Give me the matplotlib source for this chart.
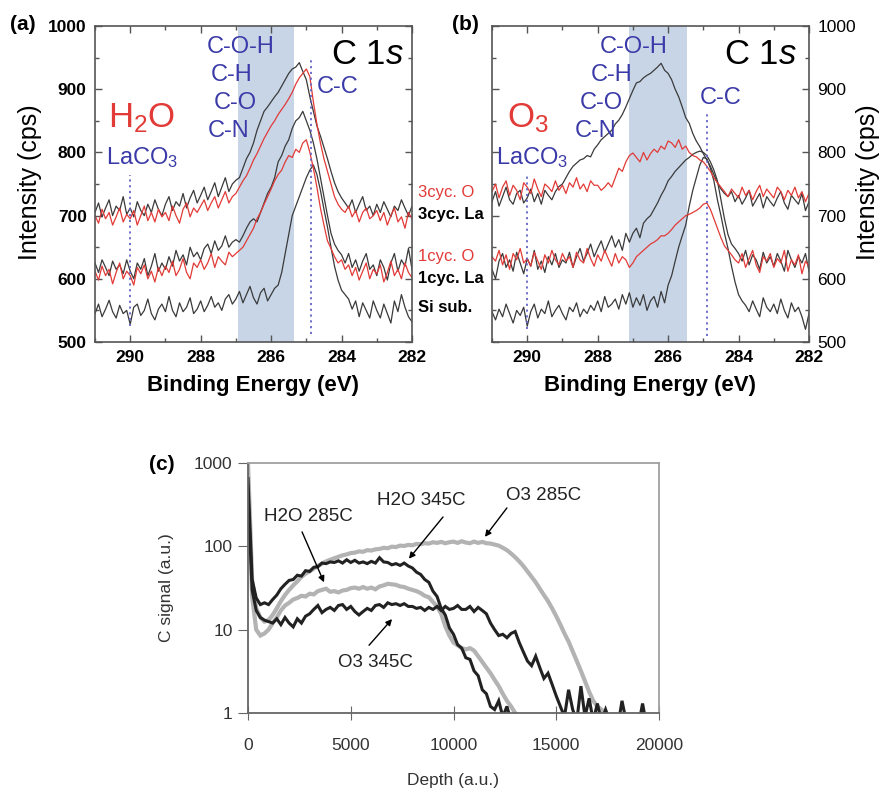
import numpy as np
import matplotlib.pyplot as plt
from matplotlib.ticker import MultipleLocator

plt.rcParams['font.family'] = ['Liberation Sans', 'DejaVu Sans']
plt.rcParams['mathtext.fontset'] = 'custom'
plt.rcParams['mathtext.rm'] = 'Liberation Sans'
plt.rcParams['mathtext.it'] = 'Liberation Sans:italic'
plt.rcParams['mathtext.bf'] = 'Liberation Sans:bold'

# ---- XPS C 1s spectra, 291.0 -> 282.0 eV in 0.1 eV steps ----
energy = np.round(np.arange(291.0, 281.95, -0.1), 1)

# (a) H2O process
a_si = [545, 560, 540, 552, 566, 548, 538, 558, 545, 550,
        528, 555, 560, 542, 550, 568, 545, 535, 552, 560,
        548, 572, 550, 540, 562, 548, 555, 570, 545, 552,
        565, 548, 558, 572, 555, 562, 550, 568, 575, 560,
        568, 580, 562, 575, 588, 570, 560, 578, 585, 565,
        575, 585, 590, 610, 640, 670, 700, 715, 730, 745,
        760, 772, 780, 765, 740, 710, 682, 650, 620, 598,
        582, 575, 568, 552, 565, 540, 562, 550, 538, 565,
        550, 538, 560, 545, 530, 565, 548, 575, 555, 540, 532]
a_1la = [625, 610, 630, 618, 605, 628, 615, 622, 608, 630,
         612, 600, 625, 615, 632, 605, 620, 640, 612, 625,
         615, 635, 620, 645, 628, 638, 622, 650, 635, 642,
         630, 648, 655, 640, 660, 645, 652, 668, 650, 658,
         662, 658, 668, 680, 690, 695, 690, 705, 720, 735,
         745, 760, 785, 795, 810, 820, 838, 850, 855, 865,
         850, 835, 815, 790, 760, 730, 700, 672, 655, 645,
         638, 625, 640, 618, 630, 612, 628, 640, 615, 622,
         605, 630, 618, 598, 625, 640, 612, 630, 620, 648, 615]
a_1o = [612, 598, 620, 605, 615, 592, 610, 625, 600, 612,
        605, 590, 618, 608, 622, 600, 612, 595, 618, 605,
        620, 610, 628, 605, 615, 632, 610, 600, 625, 618,
        630, 615, 625, 640, 618, 635, 628, 622, 642, 635,
        640, 645, 650, 660, 670, 680, 695, 705, 718, 730,
        742, 755, 765, 772, 785, 795, 792, 805, 800, 815,
        820, 800, 775, 745, 712, 685, 660, 648, 635, 625,
        630, 615, 622, 605, 618, 598, 612, 625, 600, 615,
        608, 622, 595, 610, 628, 605, 615, 600, 625, 610, 602]
a_3la = [705, 720, 698, 712, 725, 700, 715, 708, 730, 702,
         712, 698, 722, 708, 700, 718, 705, 725, 710, 700,
         718, 730, 708, 722, 715, 735, 712, 728, 740, 720,
         732, 745, 725, 738, 752, 730, 745, 760, 738, 750,
         756, 760, 775, 790, 800, 815, 835, 850, 865, 872,
         880, 888, 895, 905, 915, 925, 932, 935, 942, 928,
         915, 888, 865, 842, 826, 808, 790, 770, 752, 738,
         728, 720, 712, 725, 705, 718, 730, 708, 715, 700,
         718, 705, 722, 710, 698, 715, 708, 725, 712, 700, 715]
a_3o = [700, 688, 710, 695, 705, 685, 698, 712, 690, 702,
        695, 708, 685, 700, 715, 692, 705, 690, 710, 698,
        705, 692, 715, 700, 688, 710, 720, 698, 712, 705,
        715, 725, 708, 720, 730, 712, 725, 738, 720, 730,
        735, 745, 755, 763, 775, 788, 798, 810, 822, 832,
        842, 850, 860, 868, 876, 885, 895, 908, 918, 925,
        932, 920, 880, 845, 815, 790, 770, 750, 730, 718,
        710, 705, 715, 698, 708, 690, 705, 712, 695, 700,
        708, 692, 705, 685, 700, 712, 690, 698, 680, 705, 695]

# (b) O3 process
b_si = [548, 535, 552, 540, 560, 545, 530, 550, 542, 555,
        525, 548, 560, 538, 552, 545, 565, 540, 550, 558,
        545, 535, 555, 548, 562, 540, 552, 545, 558, 550,
        565, 548, 572, 555, 560, 568, 552, 575, 560, 578,
        555, 570, 558, 575, 550, 565, 572, 555, 580, 562,
        590, 605, 628, 650, 668, 685, 715, 740, 760, 780,
        792, 790, 775, 755, 725, 700, 672, 648, 620, 595,
        575, 565, 558, 548, 565, 552, 540, 570, 555, 548,
        560, 545, 568, 550, 538, 562, 548, 555, 540, 520, 545]
b_1la = [615, 600, 628, 640, 618, 630, 612, 642, 625, 608,
         632, 620, 645, 615, 628, 610, 635, 622, 640, 618,
         630, 625, 642, 618, 635, 648, 628, 640, 655, 635,
         648, 660, 642, 655, 668, 650, 662, 645, 672, 658,
         672, 680, 665, 688, 695, 700, 710, 720, 732, 742,
         755, 762, 770, 776, 782, 788, 792, 797, 800, 802,
         800, 795, 785, 772, 755, 725, 695, 670, 655, 648,
         640, 628, 645, 622, 638, 630, 615, 642, 625, 635,
         620, 640, 628, 612, 645, 630, 618, 635, 625, 640, 612]
b_1o = [635, 628, 645, 622, 638, 615, 640, 630, 648, 625,
        632, 620, 642, 628, 615, 638, 625, 645, 630, 622,
        640, 628, 635, 618, 642, 630, 625, 648, 632, 620,
        638, 628, 645, 632, 620, 640, 625, 635, 630, 618,
        625, 635, 640, 645, 650, 655, 658, 662, 668, 668,
        672, 678, 685, 690, 695, 700, 702, 705, 708, 712,
        718, 720, 710, 695, 680, 665, 652, 645, 638, 630,
        625, 640, 618, 632, 645, 622, 610, 635, 628, 640,
        618, 632, 625, 645, 612, 630, 622, 638, 608, 628, 620]
b_3la = [722, 738, 715, 730, 745, 725, 718, 735, 740, 720,
         728, 742, 722, 735, 718, 740, 732, 725, 738, 746,
         750, 760, 770, 778, 783, 788, 790, 795, 793, 805,
         812, 820, 825, 830, 835, 845, 851, 860, 872, 885,
         898, 910, 912, 918, 922, 925, 930, 935, 941, 930,
         925, 915, 900, 888, 872, 855, 846, 830, 818, 809,
         798, 788, 778, 765, 752, 742, 735, 730, 738, 722,
         732, 718, 728, 740, 715, 725, 735, 712, 730, 722,
         715, 728, 738, 720, 710, 732, 725, 718, 735, 708, 722]
b_3o = [738, 750, 728, 745, 755, 732, 748, 740, 725, 752,
        745, 735, 758, 742, 730, 750, 745, 738, 755, 740,
        748, 735, 752, 745, 760, 742, 750, 738, 755, 748,
        748, 740, 745, 752, 745, 760, 775, 770, 785, 795,
        799, 792, 785, 800, 788, 798, 805, 800, 810, 805,
        818, 815, 808, 820, 805, 810, 800, 795, 793, 788,
        785, 778, 770, 760, 752, 745, 738, 730, 742, 735,
        728, 745, 732, 740, 725, 738, 748, 730, 742, 735,
        728, 745, 738, 725, 740, 732, 745, 728, 738, 722, 735]

# ---- ToF-SIMS carbon depth profiles, 200 a.u. depth steps ----
depth_step = 200
h2o_345 = [650, 40, 24, 20, 21, 20, 23, 26, 31, 35,
           39, 40, 45, 44, 51, 50, 56, 57, 63, 62,
           65, 64, 67, 63, 69, 64, 68, 63, 65, 62,
           66, 63, 73, 65, 64, 60, 62, 59, 63, 58,
           55, 49, 46, 40, 37, 29, 25, 18, 15, 10.5,
           8.8, 6.6, 6, 4.6, 4.4, 3.2, 2.8, 1.9, 1.7, 1.2,
           1.1, 1.4, 0.9, 1.2, 0.8]
o3_345 = [450, 30, 17, 14, 13, 12.5, 12, 13.5, 11.5, 14,
          12, 10.8, 13.5, 12, 14.5, 15.5, 17.5, 19.5, 16, 17.5,
          18.5, 17, 19.5, 20, 17.5, 19, 16.5, 15, 16.5, 18,
          17, 19.5, 20, 18.5, 21, 20, 20.5, 19.5, 20.5, 19,
          19, 18, 18.5, 17, 18.5, 17.5, 19, 17, 19, 17.5,
          18, 19.5, 17.5, 17.5, 19, 16.5, 18.5, 17, 15.5, 12,
          10, 8.5, 8.8, 8, 9, 9.5, 7, 5.4, 4.2, 3.7,
          4.8, 3.5, 2.6, 3, 2.2, 1.6, 1.2, 0.9, 1.9, 1.1,
          0.8, 2.1, 0.9, 1.5, 0.8, 1.3, 0.8, 1.1, 0.8, 0.9,
          0.7, 1.4, 0.8, 0.7, 0.8, 0.7, 1.3, 0.7]
h2o_285 = [600, 25, 10, 8.5, 9, 10, 12, 14, 17, 19.5,
           21, 23, 24, 25.5, 25, 27, 26.5, 29, 30, 31,
           28.5, 29, 28, 29.5, 30, 31.5, 32, 31, 32.5, 31,
           32, 30.5, 33, 34, 35.5, 35, 34.5, 33, 32.5, 31,
           30, 29, 27.5, 25.5, 24.5, 21.5, 19, 15.5, 11, 8.5,
           7, 6.5, 6, 5.8, 6, 5.6, 4.8, 4.1, 3.5, 3,
           2.5, 2.1, 1.7, 1.4, 1.2, 1.0, 0.9]
o3_285 = [1000, 40, 18, 14, 12.5, 13, 15, 18, 22, 26,
          30, 34, 38, 43, 47, 50, 54, 58, 62, 66,
          69, 72, 75, 78, 80, 83, 84, 87, 86, 90,
          89, 92, 93, 96, 95, 99, 98, 102, 101, 104,
          103, 107, 106, 109, 108, 112, 110, 113, 109, 112,
          114, 110, 115, 111, 109, 114, 110, 113, 109, 108,
          105, 102, 96, 90, 82, 74, 66, 58, 50, 43,
          37, 31, 26, 22, 18, 14.5, 11.5, 9, 7.2, 5.5,
          4.2, 3.2, 2.4, 1.8, 1.4, 1.2, 1.1, 0.95, 0.9]

W, H = 882, 794
RED = '#e23a36'
BLUE = '#3a3aa8'
SHADE = '#c7d5e7'
FRAME = '#555555'

fig = plt.figure(figsize=(W / 100, H / 100), dpi=100)


def ftext(x, y, s, **kw):
    # place text using pixel coordinates of the figure
    return fig.text(x / W, 1 - y / H, s, **kw)


def xps_axes(left, series, span, la_line, cc_x, cc_line):
    ax = fig.add_axes([left / W, 1 - 342 / H, 317 / W, 316 / H])
    ax.axvspan(span[0], span[1], color=SHADE, lw=0, zorder=0)
    for vals, col in series:
        ax.plot(energy, vals, color=col, lw=0.9)
    dots = dict(color='#6464c8', lw=1.3, ls=(0, (1.2, 2.0)))
    ax.plot([290, 290], la_line, **dots)
    ax.plot([cc_x, cc_x], cc_line, **dots)
    ax.set_xlim(291, 282)
    ax.set_ylim(500, 1000)
    ax.xaxis.set_major_locator(MultipleLocator(2))
    ax.xaxis.set_minor_locator(MultipleLocator(1))
    ax.yaxis.set_major_locator(MultipleLocator(100))
    ax.yaxis.set_minor_locator(MultipleLocator(50))
    ax.tick_params(which='both', direction='in', top=True, right=True,
                   color=FRAME, width=1)
    ax.tick_params(which='major', length=5, labelsize=12.5, pad=6)
    ax.tick_params(which='minor', length=3)
    for sp in ax.spines.values():
        sp.set_color(FRAME)
        sp.set_linewidth(1.2)
    for lab in ax.get_xticklabels():
        lab.set_fontweight('bold')
    return ax


ax_a = xps_axes(95, [(a_si, '#3a3a3a'), (a_1la, '#3a3a3a'), (a_1o, RED),
                     (a_3la, '#3a3a3a'), (a_3o, RED)],
                (286.95, 285.35), [525, 765], 284.87, [513, 949])
for lab in ax_a.get_yticklabels():
    lab.set_fontweight('bold')

ax_b = xps_axes(492, [(b_si, '#3a3a3a'), (b_1la, '#3a3a3a'), (b_1o, RED),
                      (b_3la, '#3a3a3a'), (b_3o, RED)],
                (287.12, 285.45), [520, 768], 284.9, [510, 862])
ax_b.tick_params(labelleft=False, labelright=True)

# panel labels and axis titles
ftext(10, 25, '(a)', fontsize=15, fontweight='bold', va='center')
ftext(452, 25, '(b)', fontsize=15, fontweight='bold', va='center')
ftext(30, 182, 'Intensity (cps)', fontsize=18, rotation=90, ha='center', va='center')
ftext(868, 182, 'Intensity (cps)', fontsize=18, rotation=90, ha='center', va='center')
ftext(253, 385, 'Binding Energy (eV)', fontsize=16, fontweight='bold', ha='center', va='center')
ftext(650, 385, 'Binding Energy (eV)', fontsize=16, fontweight='bold', ha='center', va='center')

# in-plot annotations
for cx in (367, 760):
    ftext(cx, 55, r'C 1$\mathit{s}$', fontsize=25, ha='center', va='center')
ftext(142, 127, r'H$_2$O', fontsize=25, color=RED, ha='center', va='baseline')
ftext(528, 127, r'O$_3$', fontsize=25, color=RED, ha='center', va='baseline')

blue = dict(fontsize=17, color=BLUE, ha='center', va='center')
for x, y, s in [(241, 47, 'C-O-H'), (232, 75, 'C-H'), (235, 103, 'C-O'),
                (229, 131, 'C-N'), (338, 87, 'C-C'),
                (634, 47, 'C-O-H'), (612, 75, 'C-H'), (601, 103, 'C-O'),
                (596, 131, 'C-N'), (721, 98, 'C-C')]:
    ftext(x, y, s, **blue)
ftext(142, 164, r'LaCO$_3$', fontsize=17, color=BLUE, ha='center', va='baseline')
ftext(532, 164, r'LaCO$_3$', fontsize=17, color=BLUE, ha='center', va='baseline')

# series labels between the two spectra panels
for y, s, col, wt in [(192, '3cyc. O', RED, 'normal'),
                      (214, '3cyc. La', 'black', 'bold'),
                      (256, '1cyc. O', RED, 'normal'),
                      (278, '1cyc. La', 'black', 'bold'),
                      (308, 'Si sub.', 'black', 'bold')]:
    ftext(418, y, s, fontsize=12, color=col, fontweight=wt, va='center')

# ---- (c) depth profile ----
ax_c = fig.add_axes([248 / W, 1 - 713 / H, 411 / W, 250 / H])
GRAY = '#b3b3b3'
DARK = '#222222'
for vals, col, lw in [(h2o_285, GRAY, 3.0), (o3_285, GRAY, 3.0),
                      (o3_345, DARK, 2.2), (h2o_345, DARK, 2.2)]:
    d = np.arange(len(vals)) * depth_step
    ax_c.plot(d, vals, color=col, lw=lw, solid_joinstyle='miter')
ax_c.set_yscale('log')
ax_c.set_xlim(0, 20000)
ax_c.set_ylim(1, 1000)
ax_c.set_yticks([1, 10, 100, 1000])
ax_c.set_yticklabels(['1', '10', '100', '1000'])
ax_c.yaxis.set_minor_locator(plt.NullLocator())
ax_c.set_xticks([0, 5000, 10000, 15000, 20000])
ax_c.set_xticklabels(['0', '5000', '10000', '15000', '20000'])
ax_c.tick_params(axis='y', direction='out', length=7, color='#666666',
                 labelsize=12.5, labelcolor='#333333', pad=4)
ax_c.tick_params(axis='x', direction='inout', length=10, color='#666666',
                 labelsize=12.5, labelcolor='#333333', pad=13)
for side, sp in ax_c.spines.items():
    sp.set_color('#666666' if side in ('left', 'bottom') else '#a0a0a0')
    sp.set_linewidth(1.3)

arrow = dict(arrowstyle='-|>', color='black', lw=1.0, mutation_scale=9,
             shrinkA=0, shrinkB=0)
for s, txt_xy, tail, tip in [('H2O 285C', (2920, 225), (2630, 149), (3700, 37)),
                             ('H2O 345C', (8420, 354), (9490, 225), (7830, 71)),
                             ('O3 285C', (14380, 406), (12600, 289), (11530, 130)),
                             ('O3 345C', (6180, 4.0), (5890, 6.5), (7010, 13.4))]:
    ax_c.text(txt_xy[0], txt_xy[1], s, fontsize=13.5, color='#222222',
              ha='center', va='center')
    ax_c.annotate('', xy=tip, xytext=tail, arrowprops=arrow)

ftext(175, 465, '(c)', fontsize=15, fontweight='bold', ha='right', va='center')
ftext(167, 588, 'C signal (a.u.)', fontsize=12.5, color='#333333',
      rotation=90, ha='center', va='center')
ftext(453, 780, 'Depth (a.u.)', fontsize=12.5, color='#333333', ha='center', va='center')

fig.savefig('out.png', dpi=100)
